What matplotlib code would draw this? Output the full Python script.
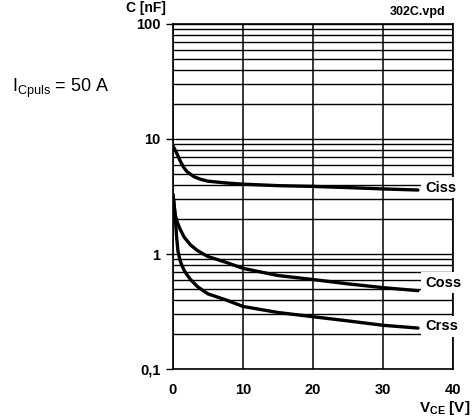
import numpy as np
import matplotlib.pyplot as plt
from matplotlib.ticker import FixedLocator, LogLocator, NullFormatter

plt.rcParams['font.family'] = ['Liberation Sans', 'DejaVu Sans']
plt.rcParams['mathtext.fontset'] = 'custom'
plt.rcParams['mathtext.rm'] = 'Liberation Sans'
plt.rcParams['mathtext.bf'] = 'Liberation Sans:bold'

# capacitance curves (V_CE in V, C in nF)
ciss_v = [0, 0.5, 1, 1.5, 2, 3, 4, 5, 7.5, 10, 15, 20, 25, 30, 35]
ciss_c = [8.7, 7.6, 6.5, 5.7, 5.2, 4.7, 4.45, 4.3, 4.15, 4.05, 3.93, 3.87, 3.78, 3.68, 3.6]

coss_v = [0, 0.15, 0.3, 0.6, 1, 1.6, 2.5, 3.5, 5, 7.5, 10, 15, 20, 25, 30, 35]
coss_c = [3.3, 2.7, 2.2, 1.9, 1.65, 1.4, 1.2, 1.07, 0.95, 0.85, 0.75, 0.65, 0.6, 0.55, 0.51, 0.48]

crss_v = [0, 0.15, 0.3, 0.5, 0.7, 1.0, 1.3, 1.6, 2, 2.5, 3.5, 5, 7.5, 10, 15, 20, 25, 30, 35]
crss_c = [3.3, 2.7, 2.2, 1.45, 1.07, 0.88, 0.79, 0.72, 0.66, 0.6, 0.52, 0.45, 0.40, 0.35,
          0.31, 0.285, 0.262, 0.24, 0.227]

curve_names = ['Ciss', 'Coss', 'Crss']
label_pos = [3.75, 0.56, 0.236]

x_ticks = [0, 10, 20, 30, 40]
y_ticks = [0.1, 1, 10, 100]
y_tick_labels = ['0,1', '1', '10', '100']

fig = plt.figure(figsize=(4.72, 4.18), dpi=100)
ax = fig.add_axes([0.3665, 0.1172, 0.5932, 0.8254])

ax.set_yscale('log')
ax.set_xlim(0, 40)
ax.set_ylim(0.1, 100)

ax.plot(ciss_v, ciss_c, color='black', lw=2.4, solid_capstyle='round', zorder=3)
ax.plot(coss_v, coss_c, color='black', lw=2.4, solid_capstyle='round', zorder=3)
ax.plot(crss_v, crss_c, color='black', lw=2.4, solid_capstyle='round', zorder=3)

for name, yv in zip(curve_names, label_pos):
    ax.text(36.0, yv, name, fontsize=10.5, fontweight='bold', ha='left', va='center',
            bbox=dict(facecolor='white', edgecolor='none', pad=2.5),
            clip_on=False, zorder=5)

ax.xaxis.set_major_locator(FixedLocator(x_ticks))
ax.yaxis.set_major_locator(FixedLocator(y_ticks))
ax.set_yticklabels(y_tick_labels)
ax.yaxis.set_minor_locator(LogLocator(base=10, subs=np.arange(2, 10)))
ax.yaxis.set_minor_formatter(NullFormatter())

ax.grid(True, which='both', axis='y', color='black', lw=1.0)
ax.grid(True, which='major', axis='x', color='black', lw=1.1)

ax.tick_params(axis='y', which='major', length=5, width=1, pad=4, labelsize=10.5)
ax.tick_params(axis='y', which='minor', length=0)
ax.tick_params(axis='x', length=0, pad=10, labelsize=10.5)
for lab in ax.get_xticklabels() + ax.get_yticklabels():
    lab.set_fontweight('bold')

for s in ax.spines.values():
    s.set_linewidth(1.2)

fig.text(0.997, 1 - 412 / 418, r'$\mathbf{V_{CE}}$ [V]', fontsize=11,
         fontweight='bold', ha='right', va='baseline')
fig.text(0.267, 1 - 12 / 418, 'C [nF]', fontsize=10, fontweight='bold',
         ha='left', va='baseline')
fig.text(0.826, 1 - 15 / 418, '302C.vpd', fontsize=9, fontweight='bold',
         ha='left', va='baseline')
fig.text(0.025, 1 - 92 / 418, r'$\mathregular{I_{Cpuls}}$ = 50 A', fontsize=13,
         ha='left', va='baseline')

fig.savefig('out.png', dpi=100)
